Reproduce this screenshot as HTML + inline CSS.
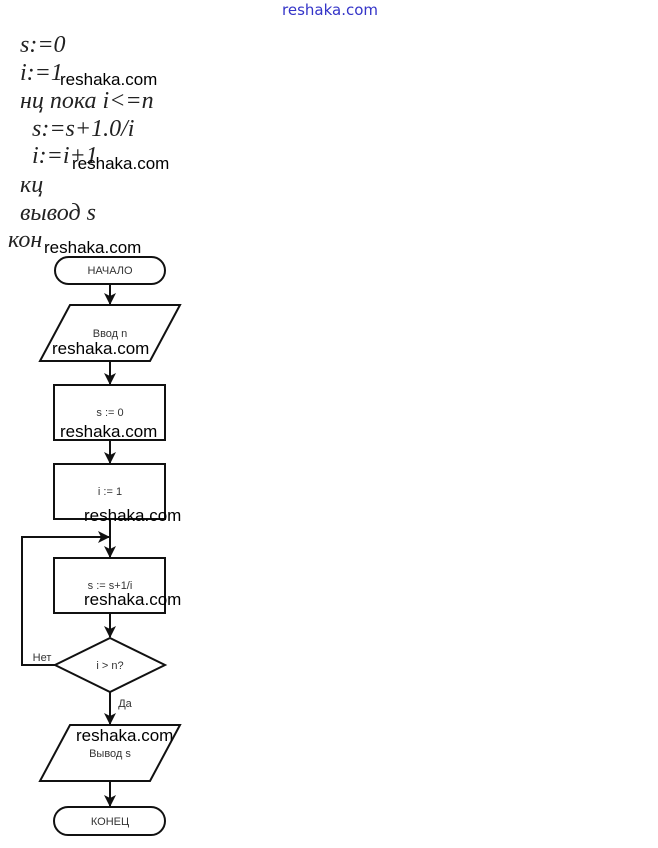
<!DOCTYPE html>
<html><head><meta charset="utf-8"><style>
body{margin:0;width:658px;height:848px;background:#fff;position:relative;overflow:hidden}
.c{position:absolute;font-family:"Liberation Serif",serif;font-style:italic;font-size:24px;color:#222;line-height:1;white-space:nowrap}
.w{position:absolute;font-family:"Liberation Sans",sans-serif;font-size:17px;color:#000;line-height:1;white-space:nowrap}
svg{position:absolute;left:0;top:0}
</style></head><body>
<div class="w" style="left:282px;top:3px;color:#3434c8;font-family:'DejaVu Sans',sans-serif;font-size:15px">reshaka.com</div>
<div class="c" style="left:20px;top:33px">s:=0</div>
<div class="c" style="left:20px;top:61px">i:=1</div>
<div class="c" style="left:20px;top:89px">нц пока i&lt;=n</div>
<div class="c" style="left:32px;top:117px">s:=s+1.0/i</div>
<div class="c" style="left:32px;top:144px">i:=i+1</div>
<div class="c" style="left:20px;top:173px">кц</div>
<div class="c" style="left:20px;top:201px">вывод s</div>
<div class="c" style="left:8px;top:228px">кон</div>
<svg width="658" height="848" viewBox="0 0 658 848">
<defs><marker id="a" markerWidth="12" markerHeight="12" refX="11" refY="6" orient="auto" markerUnits="userSpaceOnUse"><path d="M0,0 L12,6 L0,12 L3,6 z" fill="#111"/></marker></defs>
<g fill="none" stroke="#111" stroke-width="2">
<rect x="55" y="257" width="110" height="27" rx="13.5"/>
<polygon points="70,305 180,305 150,361 40,361"/>
<rect x="54" y="385" width="111" height="55"/>
<rect x="54" y="464" width="111" height="55"/>
<rect x="54" y="558" width="111" height="55"/>
<polygon points="110,638 165,665 110,692 55,665"/>
<polygon points="70,725 180,725 150,781 40,781"/>
<rect x="54" y="807" width="111" height="28" rx="14"/>
<line x1="110" y1="284" x2="110" y2="304" marker-end="url(#a)"/>
<line x1="110" y1="361" x2="110" y2="384" marker-end="url(#a)"/>
<line x1="110" y1="440" x2="110" y2="463" marker-end="url(#a)"/>
<line x1="110" y1="519" x2="110" y2="557" marker-end="url(#a)"/>
<line x1="110" y1="613" x2="110" y2="637" marker-end="url(#a)"/>
<line x1="110" y1="692" x2="110" y2="724" marker-end="url(#a)"/>
<line x1="110" y1="781" x2="110" y2="806" marker-end="url(#a)"/>
<polyline points="55,665 22,665 22,537 109,537" marker-end="url(#a)"/>
</g>
<g font-family="Liberation Sans,sans-serif" font-size="11" fill="#333" text-anchor="middle">
<text x="110" y="274">НАЧАЛО</text>
<text x="110" y="337">Ввод n</text>
<text x="110" y="416">s := 0</text>
<text x="110" y="495">i := 1</text>
<text x="110" y="589">s := s+1/i</text>
<text x="110" y="669">i &gt; n?</text>
<text x="110" y="757">Вывод s</text>
<text x="110" y="825">КОНЕЦ</text>
<text x="42" y="661">Нет</text>
<text x="125" y="707">Да</text>
</g>
</svg>
<div class="w" style="left:60px;top:71px">reshaka.com</div>
<div class="w" style="left:72px;top:155px">reshaka.com</div>
<div class="w" style="left:44px;top:239px">reshaka.com</div>
<div class="w" style="left:52px;top:340px">reshaka.com</div>
<div class="w" style="left:60px;top:423px">reshaka.com</div>
<div class="w" style="left:84px;top:507px">reshaka.com</div>
<div class="w" style="left:84px;top:591px">reshaka.com</div>
<div class="w" style="left:76px;top:727px">reshaka.com</div>
</body></html>
